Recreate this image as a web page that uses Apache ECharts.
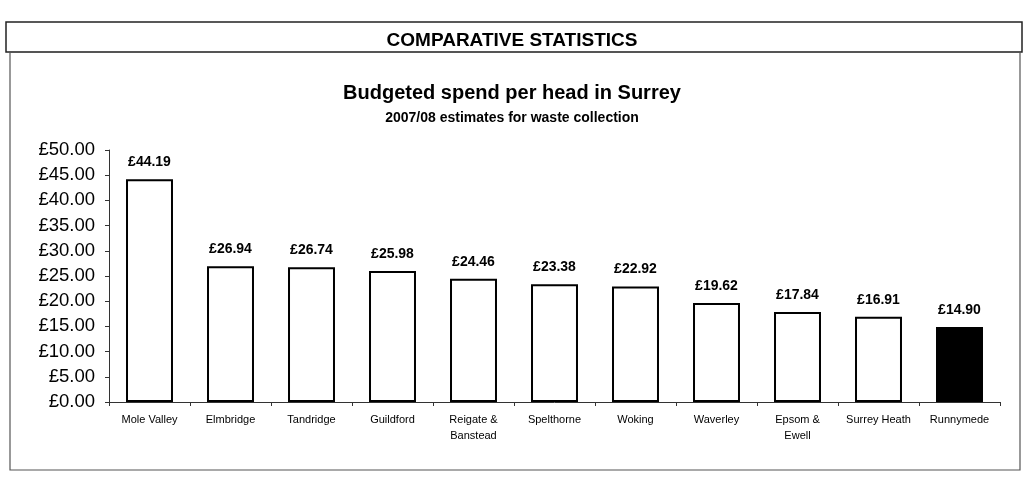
<!DOCTYPE html>
<html><head><meta charset="utf-8">
<script src="https://cdn.jsdelivr.net/npm/echarts@6/dist/echarts.min.js"></script>
<style>html,body{margin:0;padding:0;background:#fff}#c{width:1024px;height:477px}</style>
</head><body><div id="c"></div>
<script>
var categories = ['Mole Valley','Elmbridge','Tandridge','Guildford','Reigate &\nBanstead','Spelthorne','Woking','Waverley','Epsom &\nEwell','Surrey Heath','Runnymede'];
var spend = [44.19, 26.94, 26.74, 25.98, 24.46, 23.38, 22.92, 19.62, 17.84, 16.91, 14.90];
var highlight = 'Runnymede';

var chart = echarts.init(document.getElementById('c'));
var F = 'Liberation Sans, Arial, sans-serif';
chart.setOption({
  animation: false,
  title: [
    {text: 'COMPARATIVE STATISTICS', left: 'center', top: 26, textStyle: {fontFamily: F, fontSize: 19, fontWeight: 'bold', color: '#000'}},
    {text: 'Budgeted spend per head in Surrey', left: 'center', top: 78, textStyle: {fontFamily: F, fontSize: 20, fontWeight: 'bold', color: '#000'}},
    {text: '2007/08 estimates for waste collection', left: 'center', top: 106, textStyle: {fontFamily: F, fontSize: 14, fontWeight: 'bold', color: '#000'}}
  ],
  graphic: [
    {type: 'rect', shape: {x: 6, y: 22, width: 1016, height: 30}, style: {fill: 'none', stroke: '#222', lineWidth: 1.5}},
    {type: 'rect', shape: {x: 10, y: 52, width: 1010, height: 418}, style: {fill: 'none', stroke: '#555', lineWidth: 1.2}}
  ],
  grid: {left: 109, right: 24, top: 150, bottom: 75, containLabel: false},
  xAxis: {
    type: 'category', data: categories,
    axisLine: {lineStyle: {color: '#333', width: 1}},
    axisTick: {show: true, length: 4, lineStyle: {color: '#333'}},
    axisLabel: {fontFamily: F, fontSize: 11, color: '#000', interval: 0, margin: 10, lineHeight: 16}
  },
  yAxis: {
    type: 'value', min: 0, max: 50, interval: 5,
    splitLine: {show: false},
    axisLine: {show: true, lineStyle: {color: '#333', width: 1}},
    axisTick: {show: true, length: 4, lineStyle: {color: '#333'}},
    axisLabel: {fontFamily: F, fontSize: 18.5, color: '#000', margin: 14, formatter: function(v){return '£' + v.toFixed(2);}}
  },
  series: [{
    type: 'bar', barWidth: '58%',
    data: spend.map(function(v, i){
      var hl = categories[i] === highlight;
      return {value: v, itemStyle: {color: hl ? '#000' : '#fff', borderColor: '#000', borderWidth: 2}};
    }),
    label: {show: true, position: 'top', distance: 10, fontFamily: F, fontSize: 14, fontWeight: 'bold', color: '#000',
      formatter: function(p){return '£' + p.value.toFixed(2);}}
  }]
});
</script></body></html>
